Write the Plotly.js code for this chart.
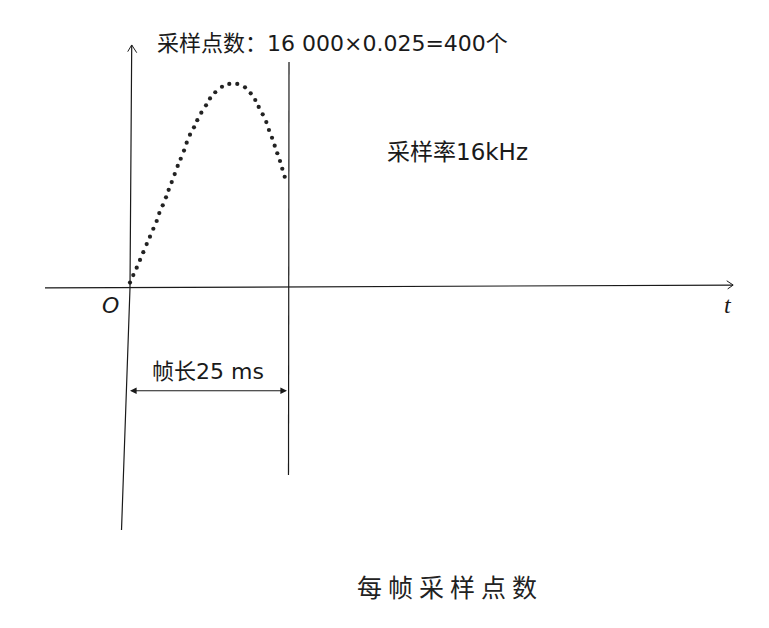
<!DOCTYPE html>
<html>
<head>
<meta charset="utf-8">
<script src="https://cdn.plot.ly/plotly-3.0.1.min.js"></script>
<style>html,body{margin:0;padding:0;background:#fff;}</style>
</head>
<body>
<div id="chart" style="width:769px;height:628px;"></div>
<script>
// Sample times (ms) within one 25 ms frame
const sampleTimeMs = [0, 0.52, 1.06, 1.58, 2.10, 2.63, 3.15, 3.68, 4.21, 4.62, 5.16, 5.68, 6.10, 6.58, 7.05, 7.52, 8.00, 8.52, 8.94, 9.46, 10.09, 10.61, 11.25, 11.99, 12.62, 13.45, 14.51, 15.66, 16.92, 18.14, 19.04, 19.76, 20.30, 20.93, 21.50, 21.92, 22.40, 22.82, 23.23, 23.66, 24.02, 24.40];
// Sample amplitudes (relative)
const sampleAmp = [0.024, 0.061, 0.097, 0.135, 0.173, 0.213, 0.249, 0.288, 0.326, 0.365, 0.403, 0.442, 0.479, 0.517, 0.556, 0.596, 0.631, 0.671, 0.710, 0.749, 0.785, 0.820, 0.857, 0.893, 0.927, 0.957, 0.984, 0.998, 0.998, 0.981, 0.952, 0.919, 0.885, 0.849, 0.811, 0.772, 0.734, 0.695, 0.658, 0.620, 0.582, 0.543];
const frameLengthMs = 25;
const labelTop = "采样点数：16 000×0.025=400个";
const labelRate = "采样率16kHz";
const labelFrame = "帧长25 ms";
const labelBottom = "每帧采样点数";
const labelOrigin = "O";
const labelTime = "t";

const ink = "#1a1a1a";
const latin = "DejaVu Sans, Noto Sans CJK SC, sans-serif";

const traces = [
  {
    x: sampleTimeMs, y: sampleAmp, type: "scatter", mode: "markers",
    marker: {size: 4.2, color: "#222", symbol: "circle"},
    hoverinfo: "skip"
  },
  // vertical axis (slightly skewed as in scan)
  {
    x: [0.27, 0, -1.34], y: [1.189, -0.002, -1.189], type: "scatter", mode: "lines",
    line: {color: ink, width: 1.2}, hoverinfo: "skip"
  }
];

const L = (x0, y0, x1, y1, w) => ({type: "line", xref: "x", yref: "y", x0, y0, x1, y1, line: {color: ink, width: w || 1.2}});

const shapes = [
  // horizontal time axis
  L(-13.41, -0.002, 95.11, 0.012),
  L(94.12, 0.033, 95.14, 0.012, 1),
  L(94.27, -0.007, 95.14, 0.012, 1),
  // y axis arrow head
  L(-0.36, 1.156, 0.27, 1.189, 1),
  L(1.06, 1.151, 0.27, 1.189, 1),
  // frame end line
  L(frameLengthMs + 0.08, 1.105, frameLengthMs, -0.919)
];

const annotations = [
  {x: 0, y: -0.506, ax: frameLengthMs, ay: -0.506, xref: "x", yref: "y", axref: "x", ayref: "y",
   text: "", showarrow: true, arrowside: "end+start", arrowhead: 2, arrowsize: 1.1, arrowwidth: 1.2, arrowcolor: ink},
  {x: 3.94, y: 1.194, xref: "x", yref: "y", text: labelTop, showarrow: false, xanchor: "left", yanchor: "middle",
   font: {family: latin, size: 22, color: ink}},
  {x: 40.2, y: 0.666, xref: "x", yref: "y", text: labelRate, showarrow: false, xanchor: "left", yanchor: "middle",
   font: {family: latin, size: 23, color: ink}},
  {x: 3.15, y: -0.413, xref: "x", yref: "y", text: labelFrame, showarrow: false, xanchor: "left", yanchor: "middle",
   font: {family: latin, size: 22, color: ink}},
  {x: -3.0, y: -0.088, xref: "x", yref: "y", text: labelOrigin, showarrow: false, xanchor: "center", yanchor: "middle",
   font: {family: "DejaVu Sans, sans-serif", size: 22, color: ink, style: "italic"}},
  {x: 94.37, y: -0.088, xref: "x", yref: "y", text: labelTime, showarrow: false, xanchor: "center", yanchor: "middle",
   font: {family: "Liberation Serif, serif", size: 24, color: ink, style: "italic"}},
  {x: 50.55, y: -1.462, xref: "x", yref: "y", text: labelBottom, showarrow: false, xanchor: "center", yanchor: "middle",
   font: {family: "Noto Sans CJK SC, sans-serif", size: 25, color: "#222"}}
];

const layout = {
  width: 769, height: 628,
  margin: {l: 0, r: 0, t: 0, b: 0},
  paper_bgcolor: "#fff", plot_bgcolor: "#fff",
  showlegend: false,
  xaxis: {range: [-20.505, 100.789], visible: false, fixedrange: true},
  yaxis: {range: [-1.6691, 1.4093], visible: false, fixedrange: true},
  shapes, annotations
};

Plotly.newPlot("chart", traces, layout, {staticPlot: true, displayModeBar: false}).then(() => {
  document.querySelectorAll(".annotation-text").forEach(el => {
    if (el.textContent === labelBottom) el.style.letterSpacing = "6px";
  });
});
</script>
</body>
</html>
